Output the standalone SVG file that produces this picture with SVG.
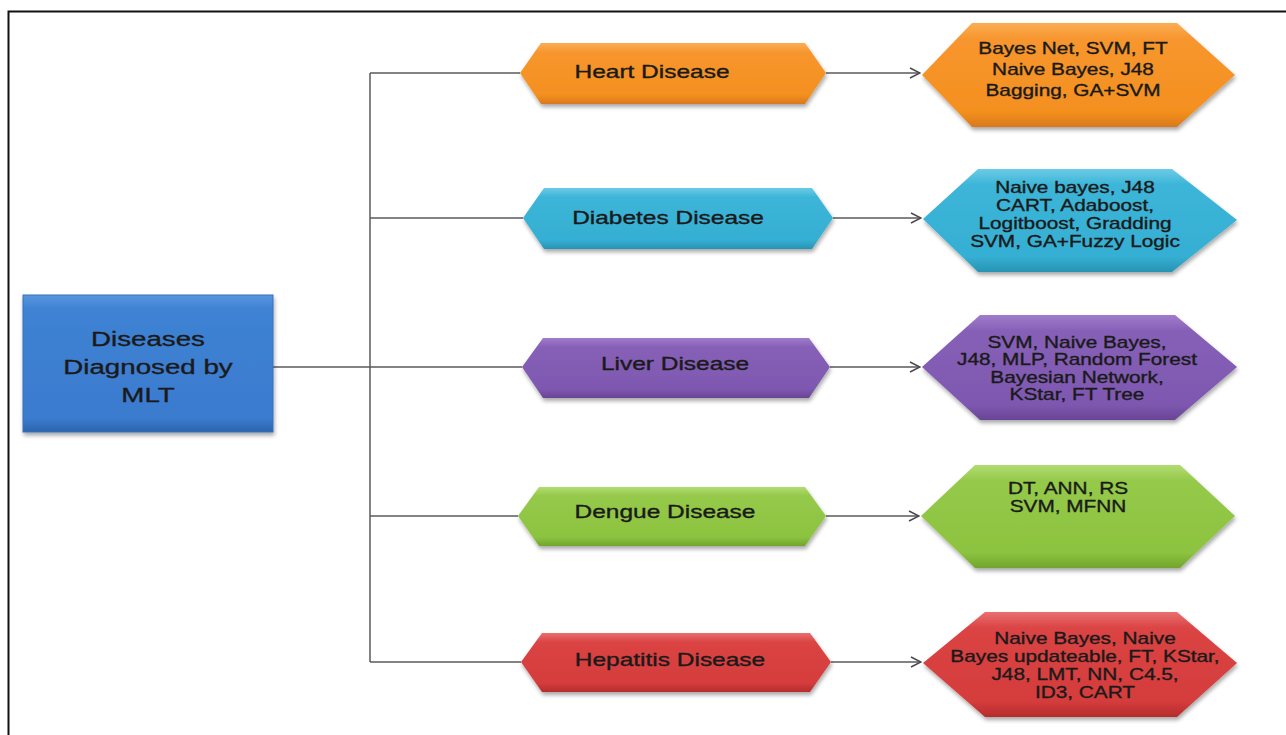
<svg xmlns="http://www.w3.org/2000/svg" width="1286" height="735" viewBox="0 0 1286 735">
<style>
.t{font-family:"Liberation Sans",Arial,sans-serif;fill:#1a1a1a;stroke:#1a1a1a;stroke-width:0.35;text-anchor:middle;dominant-baseline:central}
.d{font-size:18px}
.m{font-size:16px}
.r{font-size:21px}
.c{fill:none;stroke:#5a5a5a;stroke-width:1.5}
.sh{filter:url(#shadow)}
</style>
<defs>
<filter id="shadow" x="-10%" y="-20%" width="120%" height="150%">
<feGaussianBlur in="SourceAlpha" stdDeviation="2"/>
<feOffset dx="1" dy="3" result="b"/>
<feComponentTransfer><feFuncA type="linear" slope="0.35"/></feComponentTransfer>
<feMerge><feMergeNode/><feMergeNode in="SourceGraphic"/></feMerge>
</filter>
<linearGradient id="gO" x1="0" y1="0" x2="0" y2="1"><stop offset="0" stop-color="#fbae55"/><stop offset="0.15" stop-color="#f7962e"/><stop offset="0.85" stop-color="#f4901f"/><stop offset="1" stop-color="#d9791a"/></linearGradient>
<linearGradient id="gC" x1="0" y1="0" x2="0" y2="1"><stop offset="0" stop-color="#6ccbe6"/><stop offset="0.15" stop-color="#3cb5d8"/><stop offset="0.85" stop-color="#35afd3"/><stop offset="1" stop-color="#2894b4"/></linearGradient>
<linearGradient id="gP" x1="0" y1="0" x2="0" y2="1"><stop offset="0" stop-color="#a07ccb"/><stop offset="0.15" stop-color="#8660b7"/><stop offset="0.85" stop-color="#7e58b0"/><stop offset="1" stop-color="#684594"/></linearGradient>
<linearGradient id="gG" x1="0" y1="0" x2="0" y2="1"><stop offset="0" stop-color="#b2dc72"/><stop offset="0.15" stop-color="#95c94a"/><stop offset="0.85" stop-color="#8cc33f"/><stop offset="1" stop-color="#72a52c"/></linearGradient>
<linearGradient id="gR" x1="0" y1="0" x2="0" y2="1"><stop offset="0" stop-color="#e87070"/><stop offset="0.15" stop-color="#db4444"/><stop offset="0.85" stop-color="#d53c3c"/><stop offset="1" stop-color="#b52c2c"/></linearGradient>
<linearGradient id="gB" x1="0" y1="0" x2="0" y2="1"><stop offset="0" stop-color="#5a95dd"/><stop offset="0.1" stop-color="#3f82d3"/><stop offset="0.9" stop-color="#3a7bcf"/><stop offset="1" stop-color="#2c64ad"/></linearGradient>
<marker id="arr" viewBox="0 0 12 12" refX="11" refY="6" markerWidth="12" markerHeight="12" markerUnits="userSpaceOnUse" orient="auto">
<path d="M1,1 L11,6 L1,11" fill="none" stroke="#4a4a4a" stroke-width="1.5"/>
</marker>
</defs>
<rect width="1286" height="735" fill="#ffffff"/>
<path d="M8.5,735 V11.5 H1286" fill="none" stroke="#111" stroke-width="2"/>

<g id="connectors">
<path class="c" d="M273,367 H370"/>
<path class="c" d="M370,73 V662"/>
<path class="c" d="M370,73 H520"/>
<path class="c" d="M370,218 H523"/>
<path class="c" d="M370,367 H522"/>
<path class="c" d="M370,516 H518"/>
<path class="c" d="M370,662 H521"/>
<path class="c" d="M826,73 H920" marker-end="url(#arr)"/>
<path class="c" d="M833,218 H921" marker-end="url(#arr)"/>
<path class="c" d="M830,367 H920" marker-end="url(#arr)"/>
<path class="c" d="M826,516 H919" marker-end="url(#arr)"/>
<path class="c" d="M831,662 H921" marker-end="url(#arr)"/>
</g>

<g id="root">
<rect class="sh" x="23" y="295" width="250" height="137" fill="url(#gB)" stroke="#3670bb" stroke-width="1"/>
<text class="t r" transform="translate(148 366) scale(1.32 1)"><tspan x="0" y="-28">Diseases</tspan><tspan x="0" y="0">Diagnosed by</tspan><tspan x="0" y="28">MLT</tspan></text>
</g>

<g id="heart">
<polygon class="sh" points="520,73 541,43 805,43 826,73 805,104 541,104" fill="url(#gO)"/>
<text class="t d" transform="translate(652 72) scale(1.36 1)" x="0" y="0">Heart Disease</text>
</g>
<g id="diabetes">
<polygon class="sh" points="523,218 544,188 812,188 833,218 812,249 544,249" fill="url(#gC)"/>
<text class="t d" transform="translate(668 218) scale(1.36 1)" x="0" y="0">Diabetes Disease</text>
</g>
<g id="liver">
<polygon class="sh" points="522,367 543,338 809,338 830,367 809,398 543,398" fill="url(#gP)"/>
<text class="t d" transform="translate(675 364) scale(1.36 1)" x="0" y="0">Liver Disease</text>
</g>
<g id="dengue">
<polygon class="sh" points="518,516 539,487 805,487 826,516 805,546 539,546" fill="url(#gG)"/>
<text class="t d" transform="translate(665 512) scale(1.36 1)" x="0" y="0">Dengue Disease</text>
</g>
<g id="hepatitis">
<polygon class="sh" points="521,662 542,633 810,633 831,662 810,692 542,692" fill="url(#gR)"/>
<text class="t d" transform="translate(670 660) scale(1.36 1)" x="0" y="0">Hepatitis Disease</text>
</g>

<g id="heart-methods">
<polygon class="sh" points="922,75 972,23 1177,23 1235,75 1177,127 972,127" fill="url(#gO)"/>
<text class="t m" transform="translate(1073 69) scale(1.3 1)"><tspan x="0" y="-21">Bayes Net, SVM, FT</tspan><tspan x="0" y="0">Naive Bayes, J48</tspan><tspan x="0" y="21">Bagging, GA+SVM</tspan></text>
</g>
<g id="diabetes-methods">
<polygon class="sh" points="923,219 978,169 1172,169 1237,220 1172,272 978,272" fill="url(#gC)"/>
<text class="t m" transform="translate(1075 214) scale(1.3 1)"><tspan x="0" y="-27">Naive bayes, J48</tspan><tspan x="0" y="-9">CART, Adaboost,</tspan><tspan x="0" y="9">Logitboost, Gradding</tspan><tspan x="0" y="27">SVM, GA+Fuzzy Logic</tspan></text>
</g>
<g id="liver-methods">
<polygon class="sh" points="922,367 980,315 1175,315 1237,367 1175,420 980,420" fill="url(#gP)"/>
<text class="t m" transform="translate(1077 368) scale(1.3 1)"><tspan x="0" y="-26">SVM, Naive Bayes,</tspan><tspan x="0" y="-9">J48, MLP, Random Forest</tspan><tspan x="0" y="9">Bayesian Network,</tspan><tspan x="0" y="26">KStar, FT Tree</tspan></text>
</g>
<g id="dengue-methods">
<polygon class="sh" points="921,516 975,465 1180,465 1235,516 1180,568 975,568" fill="url(#gG)"/>
<text class="t m" transform="translate(1068 497) scale(1.3 1)"><tspan x="0" y="-9">DT, ANN, RS</tspan><tspan x="0" y="9">SVM, MFNN</tspan></text>
</g>
<g id="hepatitis-methods">
<polygon class="sh" points="923,663 985,612 1177,612 1237,663 1177,717 985,717" fill="url(#gR)"/>
<text class="t m" transform="translate(1085 665) scale(1.3 1)"><tspan x="0" y="-27">Naive Bayes, Naive</tspan><tspan x="0" y="-9">Bayes updateable, FT, KStar,</tspan><tspan x="0" y="9">J48, LMT, NN, C4.5,</tspan><tspan x="0" y="27">ID3, CART</tspan></text>
</g>
</svg>
